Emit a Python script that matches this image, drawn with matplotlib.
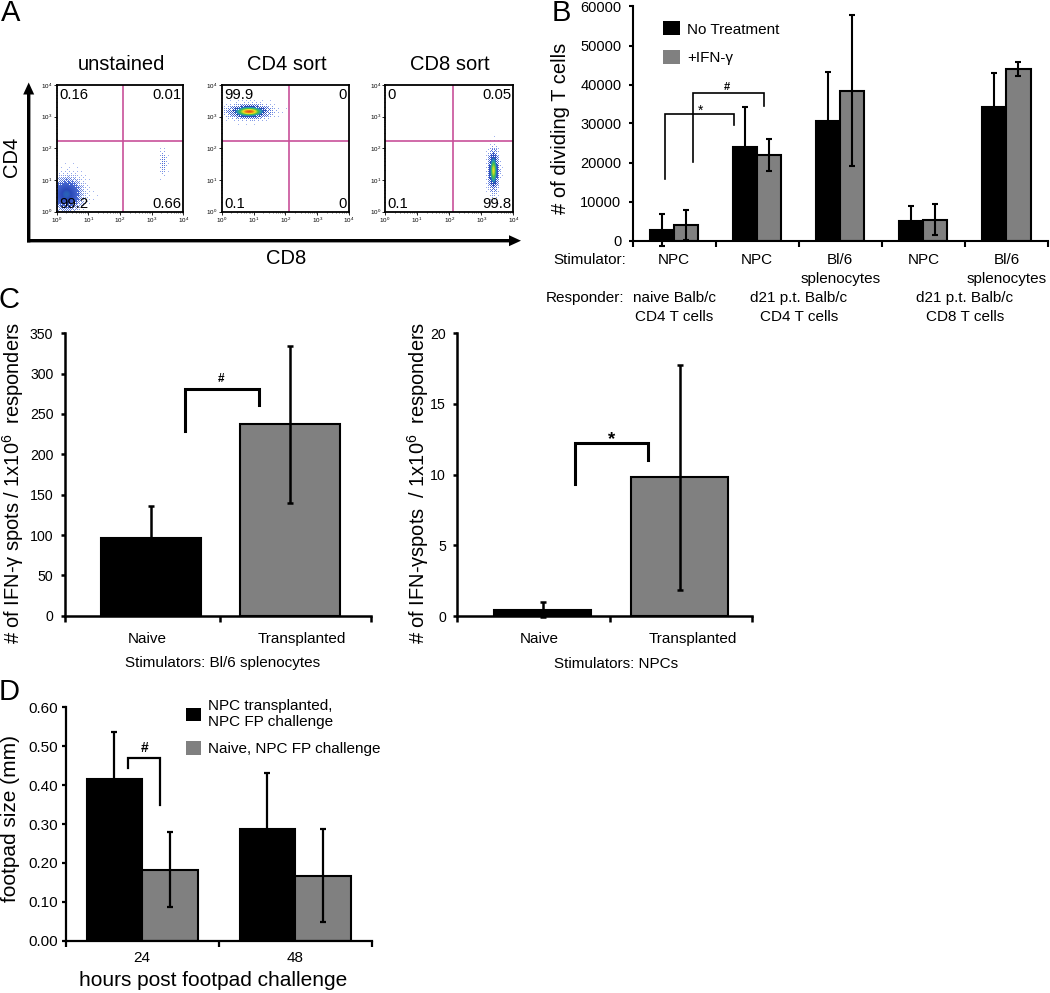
import numpy as np
import matplotlib
matplotlib.use("Agg")
import matplotlib.pyplot as plt
import matplotlib.transforms as mtransforms
from matplotlib.patches import FancyArrow, Patch
from matplotlib.colors import LinearSegmentedColormap
from matplotlib.ticker import FixedLocator

plt.rcParams['font.family'] = ['Liberation Sans', 'DejaVu Sans']
plt.rcParams['mathtext.fontset'] = 'custom'
plt.rcParams['mathtext.rm'] = 'Liberation Sans'
plt.rcParams['mathtext.it'] = 'Liberation Sans:italic'
plt.rcParams['mathtext.bf'] = 'Liberation Sans:bold'

# ---------------- data ----------------
# Panel A: flow cytometry (log10 fluorescence units)
flow_titles = ["unstained", "CD4 sort", "CD8 sort"]
flow_quadrants = [["0.16", "0.01", "99.2", "0.66"],
                  ["99.9", "0", "0.1", "0"],
                  ["0", "0.05", "0.1", "99.8"]]
flow_gate_cd8 = [2.08, 2.12, 2.11]
flow_gate_cd4 = [2.24, 2.24, 2.24]
flow_decades = [0, 1, 2, 3, 4]
pop_panel = [0, 0, 1, 2]
pop_cd8 = [0.30, 3.35, 0.85, 3.36]
pop_cd4 = [0.55, 1.55, 3.17, 1.30]
pop_sd_cd8 = [0.30, 0.07, 0.38, 0.10]
pop_sd_cd4 = [0.32, 0.25, 0.13, 0.38]
pop_peak = [0.50, 0.25, 0.97, 0.85]
pop_opacity = [1.0, 0.25, 1.0, 1.0]

# Panel B
b_stimulators = ["NPC", "NPC", "Bl/6\nsplenocytes", "NPC", "Bl/6\nsplenocytes"]
b_responders = ["naive Balb/c\nCD4 T cells", "d21 p.t. Balb/c\nCD4 T cells", "d21 p.t. Balb/c\nCD8 T cells"]
b_responder_groups = [[0], [1, 2], [3, 4]]
b_series = ["No Treatment", "+IFN-\u03b3"]
b_no_treatment = [2700, 23900, 30700, 4900, 34300]
b_no_treatment_err = [4200, 10400, 12500, 4060, 8600]
b_ifn = [4000, 21900, 38400, 5300, 44000]
b_ifn_err = [3900, 4150, 19400, 4000, 1750]
b_yticks = [0, 10000, 20000, 30000, 40000, 50000, 60000]

# Panel C
c_groups = ["Naive", "Transplanted"]
c_splen_values = [96.5, 237.0]
c_splen_err = [40.0, 97.0]
c_splen_yticks = [0, 50, 100, 150, 200, 250, 300, 350]
c_npc_values = [0.45, 9.8]
c_npc_err = [0.55, 7.93]
c_npc_yticks = [0, 5, 10, 15, 20]

# Panel D
d_hours = ["24", "48"]
d_series = ["NPC transplanted,\nNPC FP challenge", "Naive, NPC FP challenge"]
d_transplanted = [0.415, 0.286]
d_transplanted_err = [0.121, 0.144]
d_naive = [0.183, 0.167]
d_naive_err = [0.097, 0.120]
d_yticks = [0.0, 0.1, 0.2, 0.3, 0.4, 0.5, 0.6]

# ---------------- figure ----------------
W, H = 1050, 993
fig = plt.figure(figsize=(W / 100, H / 100), dpi=100)
BLACK = '#000000'
GRAY = '#808080'


def px_axes(l, t, r, b, **kw):
    return fig.add_axes([l / W, 1 - b / H, (r - l) / W, (b - t) / H], **kw)


ov = px_axes(0, 0, W, H)
ov.set_xlim(0, W)
ov.set_ylim(H, 0)
ov.axis('off')


def label(x, y, s, size, **kw):
    kw.setdefault('ha', 'center')
    kw.setdefault('va', 'center')
    ov.text(x, y, s, fontsize=size, **kw)


def style_bar_axes(ax, lw=1.5, pad=4):
    for sp in ['top', 'right']:
        ax.spines[sp].set_visible(False)
    for sp in ['left', 'bottom']:
        ax.spines[sp].set_linewidth(lw)
    ax.tick_params(axis='y', direction='out', length=3, width=lw, pad=pad)
    ax.tick_params(axis='x', direction='out', length=4, width=lw, labelbottom=False)
    ax.set_facecolor('none')


def sig(ax, x, y, s, size, bold=True):
    frac = 0.57 if s == '*' else 0.36
    ax.annotate(s, (x, y), xytext=(0, -frac * size), textcoords='offset points',
                ha='center', va='baseline', fontsize=size,
                fontweight='bold' if bold else 'normal', annotation_clip=False)


def errs(ax, x, y, e, lw=1.5, cap=2.5):
    c = ax.errorbar(x, y, yerr=e, fmt='none', ecolor='black', elinewidth=lw,
                    capsize=cap, capthick=lw, zorder=4)
    for art in list(c.lines[1]) + list(c.lines[2]):
        art.set_clip_on(False)


# ---------------- Panel A ----------------
label(11, 13, "A", 21)
flow_boxes = [(56.7, 183.3), (221.7, 349.0), (385.0, 513.3)]
flow_cmap = LinearSegmentedColormap.from_list(
    'flow', [(0.0, '#a8b8f0'), (0.2, '#5070d8'), (0.45, '#2a48b8'), (0.6, '#2898b8'),
             (0.74, '#48c048'), (0.86, '#f0e020'), (1.0, '#e83010')])
# ordered-dither threshold pattern for a dot-plot look
bayer = np.array([[0, 2], [3, 1]])
for _ in range(2):
    bayer = np.block([[4 * bayer, 4 * bayer + 2], [4 * bayer + 3, 4 * bayer + 1]])
bayer = (bayer + 0.5) / bayer.size
NG = 128
thresh = np.tile(bayer, (NG // 8, NG // 8))
cells = (np.arange(NG) + 0.5) * 4 / NG
GX, GY = np.meshgrid(cells, cells)
minor = [d + np.log10(k) for d in flow_decades[:-1] for k in range(2, 10)]
for i, (l, r) in enumerate(flow_boxes):
    ax = px_axes(l, 85.0, r, 211.7)
    ax.set_xlim(0, 4)
    ax.set_ylim(0, 4)
    for p in range(len(pop_panel)):
        if pop_panel[p] != i:
            continue
        d = np.exp(-0.5 * (((GX - pop_cd8[p]) / pop_sd_cd8[p]) ** 2 +
                           ((GY - pop_cd4[p]) / pop_sd_cd4[p]) ** 2))
        rgba = flow_cmap(d * pop_peak[p])
        cover = np.clip(d * 1.6, 0, 1) * pop_opacity[p]
        rgba[..., 3] = (cover > thresh).astype(float)
        ax.imshow(rgba, extent=[0, 4, 0, 4], origin='lower', aspect='auto',
                  interpolation='nearest', zorder=1)
    ax.axvline(flow_gate_cd8[i], color='#c8509a', lw=1.2, zorder=2)
    ax.axhline(flow_gate_cd4[i], color='#c8509a', lw=1.2, zorder=2)
    ax.set_xticks(flow_decades)
    ax.set_yticks(flow_decades)
    ax.set_xticklabels([f"$10^{{{d}}}$" for d in flow_decades], fontsize=4.5)
    ax.set_yticklabels([f"$10^{{{d}}}$" for d in flow_decades], fontsize=4.5)
    ax.xaxis.set_minor_locator(FixedLocator(minor))
    ax.yaxis.set_minor_locator(FixedLocator(minor))
    ax.tick_params(which='major', length=2, width=0.6, pad=1)
    ax.tick_params(which='minor', length=1, width=0.4)
    for sp in ax.spines.values():
        sp.set_linewidth(1.3)
    q = flow_quadrants[i]
    kw = dict(transform=ax.transAxes, fontsize=10.7, va='center', zorder=3)
    ax.text(0.018, 0.921, q[0], ha='left', **kw)
    ax.text(0.985, 0.921, q[1], ha='right', **kw)
    ax.text(0.018, 0.058, q[2], ha='left', **kw)
    ax.text(0.985, 0.058, q[3], ha='right', **kw)
    label((l + r) / 2 + 1, 64, flow_titles[i], 14.5)

ov.add_patch(FancyArrow(28.7, 242.4, 0, -(242.4 - 82.5), width=3.4, head_width=11,
                        head_length=12, length_includes_head=True, color='black', lw=0))
ov.add_patch(FancyArrow(27.0, 240.7, 521.0 - 27.0, 0, width=3.4, head_width=11,
                        head_length=12, length_includes_head=True, color='black', lw=0))
label(12, 157, "CD4", 14.5, rotation=90)
label(286, 258, "CD8", 14.5)

# ---------------- Panel B ----------------
label(561, 13, "B", 21)
axB = px_axes(632.5, 6.5, 1048, 240.5)
style_bar_axes(axB, pad=5)
xb = np.arange(len(b_stimulators))
wb = 0.29
axB.bar(xb - wb / 2, b_no_treatment, wb, color=BLACK, edgecolor='black', lw=1.5, zorder=2)
axB.bar(xb + wb / 2, b_ifn, wb, color=GRAY, edgecolor='black', lw=1.5, zorder=2)
errs(axB, xb - wb / 2, b_no_treatment, b_no_treatment_err)
errs(axB, xb + wb / 2, b_ifn, b_ifn_err)
axB.set_xlim(-0.5, len(b_stimulators) - 0.5)
axB.set_ylim(0, 60000)
axB.set_yticks(b_yticks)
axB.set_yticklabels([str(v) for v in b_yticks], fontsize=10.5)
axB.set_xticks(np.arange(len(b_stimulators) + 1) - 0.5)
axB.plot([-0.105, -0.105, 0.723, 0.723], [15650, 32500, 32500, 29500], color='black', lw=1.2,
         solid_joinstyle='miter', zorder=5)
axB.plot([0.226, 0.226, 1.083, 1.083], [20150, 37700, 37700, 34500], color='black', lw=1.2,
         solid_joinstyle='miter', zorder=5)
sig(axB, 0.315, 34300, '*', 10, bold=False)
sig(axB, 0.638, 39500, '#', 8, bold=True)
b_handles = [Patch(facecolor=BLACK, edgecolor='none', label=b_series[0]),
             Patch(facecolor=GRAY, edgecolor='none', label=b_series[1])]
axB.legend(handles=b_handles, loc='upper left', bbox_to_anchor=(663.3 / W, 1 - 21.5 / H),
           bbox_transform=fig.transFigure, frameon=False, fontsize=11,
           handlelength=1.1, handleheight=1.0, handletextpad=0.45,
           labelspacing=0.9, borderpad=0, borderaxespad=0)
tB = mtransforms.blended_transform_factory(axB.transData, ov.transData)
label(626.5, 259.6, "Stimulator:", 11, ha='right')
for i, s in enumerate(b_stimulators):
    for j, line in enumerate(s.split("\n")):
        axB.text(i, 259.6 + 19.3 * j, line, transform=tB, ha='center', va='center', fontsize=11)
label(624.5, 298.0, "Responder:", 11, ha='right')
for grp, s in zip(b_responder_groups, b_responders):
    for j, line in enumerate(s.split("\n")):
        axB.text(np.mean(grp), 298.0 + 19.0 * j, line, transform=tB, ha='center', va='center',
                 fontsize=11)
label(561, 128, "# of dividing T cells", 14.5, rotation=90)

# ---------------- Panel C ----------------
label(9, 300, "C", 21)
wc = 0.72
axC1 = px_axes(64.5, 333.3, 370.7, 615.7)
style_bar_axes(axC1, lw=1.8, pad=5)
xc = np.arange(len(c_groups))
axC1.bar(xc, c_splen_values, wc, color=[BLACK, GRAY], edgecolor='black', lw=1.5, zorder=2)
errs(axC1, xc, c_splen_values, c_splen_err, lw=1.8)
axC1.set_xlim(-0.622, 1.582)
axC1.set_ylim(0, 350)
axC1.set_yticks(c_splen_yticks)
axC1.set_yticklabels([str(v) for v in c_splen_yticks], fontsize=10.2)
axC1.set_xticks([-0.622, 0.496, 1.582])
axC1.plot([0.242, 0.242, 0.776, 0.776], [229.4, 281.3, 281.3, 260.6], color='black', lw=2.2,
          solid_joinstyle='miter', zorder=5)
sig(axC1, 0.502, 294.7, '#', 8.5)
tC1 = mtransforms.blended_transform_factory(axC1.transData, ov.transData)
for xpos, g in zip([-0.025, 1.085], c_groups):
    axC1.text(xpos, 639, g, transform=tC1, ha='center', va='center', fontsize=11)
label(223, 663.3, "Stimulators: Bl/6 splenocytes", 11)
label(13, 483, "# of IFN-\u03b3 spots / 1x10$^{6}$  responders", 14.4, rotation=90)

axC2 = px_axes(457.2, 333.3, 751.7, 616.0)
style_bar_axes(axC2, lw=1.8, pad=5)
axC2.bar(xc, c_npc_values, 0.71, color=[BLACK, GRAY], edgecolor='black', lw=1.5, zorder=2)
errs(axC2, xc, c_npc_values, c_npc_err, lw=1.8)
axC2.set_xlim(-0.624, 1.527)
axC2.set_ylim(0, 20)
axC2.set_yticks(c_npc_yticks)
axC2.set_yticklabels([str(v) for v in c_npc_yticks], fontsize=10.2)
axC2.set_xticks([-0.624, 0.495, 1.527])
axC2.plot([0.234, 0.234, 0.766, 0.766], [9.34, 12.22, 12.22, 11.04], color='black', lw=2.2,
          solid_joinstyle='miter', zorder=5)
sig(axC2, 0.503, 12.93, '*', 13.5)
tC2 = mtransforms.blended_transform_factory(axC2.transData, ov.transData)
for xpos, g in zip([-0.027, 1.1], c_groups):
    axC2.text(xpos, 639, g, transform=tC2, ha='center', va='center', fontsize=11)
label(616, 664, "Stimulators: NPCs", 11)
label(418, 483, "# of IFN-\u03b3spots  / 1x10$^{6}$  responders", 14.4, rotation=90)

# ---------------- Panel D ----------------
label(9, 692, "D", 21)
axD = px_axes(65.7, 707.3, 371.7, 940.7)
style_bar_axes(axD, lw=1.6, pad=2.5)
xd = np.arange(len(d_hours))
wd = 0.363
axD.bar(xd - wd / 2, d_transplanted, wd, color=BLACK, edgecolor='black', lw=1.5, zorder=2)
axD.bar(xd + wd / 2, d_naive, wd, color=GRAY, edgecolor='black', lw=1.5, zorder=2)
errs(axD, xd - wd / 2, d_transplanted, d_transplanted_err, lw=1.6)
errs(axD, xd + wd / 2, d_naive, d_naive_err, lw=1.6)
axD.set_xlim(-0.5, 1.5)
axD.set_ylim(0, 0.6)
axD.set_yticks(d_yticks)
axD.set_yticklabels([f"{v:.2f}" for v in d_yticks], fontsize=11)
axD.set_xticks([-0.5, 0.5, 1.5])
axD.plot([-0.092, -0.092, 0.118, 0.118], [0.443, 0.470, 0.470, 0.349], color='black', lw=1.6,
         solid_joinstyle='miter', zorder=5)
sig(axD, 0.013, 0.497, '#', 10)
tD = mtransforms.blended_transform_factory(axD.transData, ov.transData)
for i, h in enumerate(d_hours):
    axD.text(i, 958.3, h, transform=tD, ha='center', va='center', fontsize=11)
label(213, 981, "hours post footpad challenge", 15)
label(11, 818, "footpad size (mm)", 15, rotation=90)
d_handles = [Patch(facecolor=BLACK, edgecolor='none', label=d_series[0]),
             Patch(facecolor=GRAY, edgecolor='none', label=d_series[1])]
axD.legend(handles=d_handles, loc='upper left', bbox_to_anchor=(186.0 / W, 1 - 699.0 / H),
           bbox_transform=fig.transFigure, frameon=False, fontsize=11,
           handlelength=1.0, handleheight=1.0, handletextpad=0.45,
           labelspacing=0.8, borderpad=0, borderaxespad=0)

fig.savefig("out.png", dpi=100)
